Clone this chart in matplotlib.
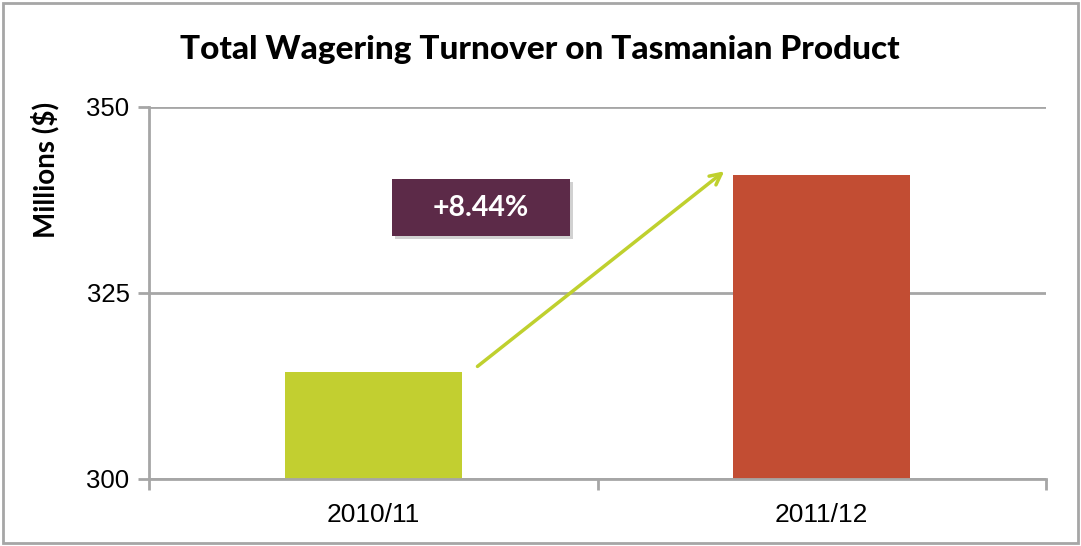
import matplotlib
matplotlib.use("Agg")
import matplotlib.pyplot as plt
from matplotlib.patches import Rectangle

# data
categories = ["2010/11", "2011/12"]
turnover = [314.4, 340.8]
bar_colors = ["#C2CF30", "#C24D33"]
change_label = "+8.44%"
y_ticks = [300, 325, 350]

GRID = "#A6A6A6"


def make_plot():
    fig = plt.figure(figsize=(10.81, 5.46), dpi=100)
    ax = fig.add_axes([149 / 1081, 1 - 479 / 546, 897 / 1081, 372 / 546])

    x = list(range(len(categories)))
    width = 0.395
    ax.bar(x, [v - 300 for v in turnover], bottom=300, width=width,
           color=bar_colors, zorder=2)

    ax.set_xlim(-0.5, len(categories) - 0.5)
    ax.set_ylim(300, 350)
    ax.set_yticks(y_ticks)
    ax.set_yticklabels([str(t) for t in y_ticks], family="Liberation Sans", fontsize=18.5)
    ax.set_xticks(x)
    ax.set_xticklabels(categories, family="Liberation Sans", fontsize=19)
    ax.tick_params(axis="x", length=0, pad=17)
    ax.set_xticks([-0.5, 0.5, 1.5], minor=True)
    ax.tick_params(axis="x", which="minor", length=8, width=2, color=GRID)
    ax.tick_params(axis="y", length=8, width=2, color=GRID, pad=6)

    ax.grid(axis="y", color=GRID, linewidth=2, zorder=0)
    for side in ("top", "right"):
        ax.spines[side].set_visible(False)
    for side in ("left", "bottom"):
        ax.spines[side].set_color(GRID)
        ax.spines[side].set_linewidth(2)
    ax.spines["bottom"].set_zorder(3)

    # growth arrow from first bar to second
    ax.annotate("", xy=(1 - width / 2 - 0.015, turnover[1] + 0.8),
                xytext=(width / 2 + 0.03, turnover[0] + 0.5),
                arrowprops=dict(arrowstyle="->,head_length=0.8,head_width=0.4",
                                color="#BFD02E", lw=2.5), zorder=4)

    # percent change box with a soft shadow
    bx, by, bw, bh = 0.042, 332.66, 0.397, 7.66
    ax.add_patch(Rectangle((bx + 0.006, by - 0.45), bw, bh, color="#000000",
                           alpha=0.18, lw=0, zorder=4))
    ax.add_patch(Rectangle((bx, by), bw, bh, color="#5C2A48", lw=0, zorder=5))
    ax.text(bx + bw / 2, by + bh / 2, change_label, color="white", fontsize=20.5,
            family="Lato", weight="bold", ha="center", va="center", zorder=6)

    fig.text(540 / 1081, 1 - 50 / 546, "Total Wagering Turnover on Tasmanian Product",
             fontsize=24, family="Lato", weight="black", ha="center", va="center")
    fig.text(45 / 1081, 1 - 170 / 546, "Millions ($)", rotation=90, fontsize=20,
             family="Lato", weight="bold", ha="center", va="center")

    fig.add_artist(Rectangle((0.003, 0.005), 0.994, 0.99, transform=fig.transFigure,
                             fill=False, edgecolor="#A6A6A6", lw=2))
    return fig


def main() -> None:
    fig = make_plot()
    fig.savefig("out.png", dpi=100)


if __name__ == "__main__":
    main()
